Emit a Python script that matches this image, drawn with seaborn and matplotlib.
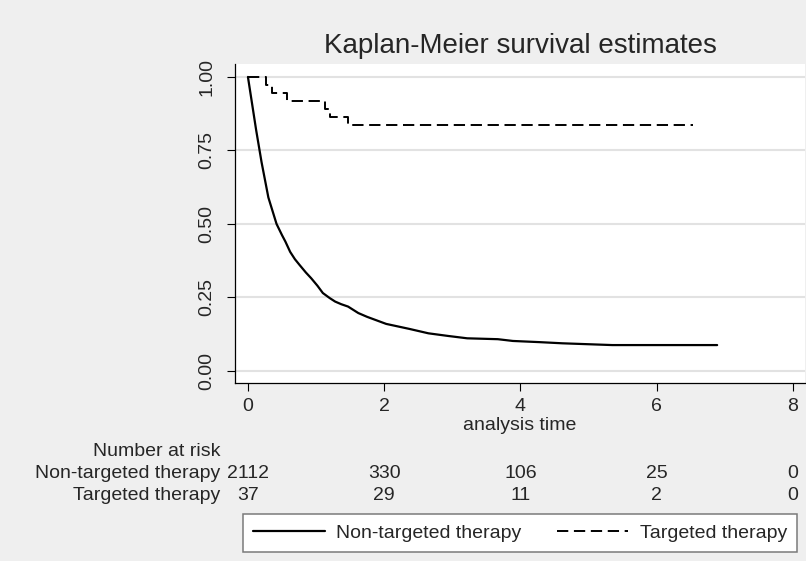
import numpy as np
import pandas as pd
import matplotlib
matplotlib.use("Agg")
import matplotlib.pyplot as plt
import matplotlib.transforms as mtransforms
import seaborn as sns

# ---------------- data ----------------
groups = ["Non-targeted therapy", "Targeted therapy"]

nt_time = [0, 0.06, 0.12, 0.2, 0.25, 0.3, 0.36, 0.42, 0.5, 0.55, 0.62, 0.69, 0.76, 0.85,
           0.93, 1.02, 1.1, 1.2, 1.28, 1.37, 1.47, 1.62, 1.75, 2.03, 2.37, 2.65, 2.94,
           3.22, 3.67, 3.89, 4.28, 4.62, 5.35, 6.89]
nt_surv = [1.0, 0.91, 0.82, 0.71, 0.65, 0.59, 0.545, 0.50, 0.462, 0.44, 0.405, 0.38, 0.36,
           0.335, 0.315, 0.29, 0.265, 0.248, 0.236, 0.227, 0.219, 0.197, 0.184, 0.16, 0.143,
           0.128, 0.119, 0.111, 0.108, 0.102, 0.098, 0.094, 0.088, 0.088]

tt_time = [0, 0.27, 0.35, 0.57, 1.13, 1.2, 1.47, 6.53]
tt_surv = [1.0, 0.973, 0.946, 0.919, 0.892, 0.865, 0.838, 0.838]

risk_times = [0, 2, 4, 6, 8]
risk_nt = [2112, 330, 106, 25, 0]
risk_tt = [37, 29, 11, 2, 0]

xticks = [0, 2, 4, 6, 8]
yticks = [0.0, 0.25, 0.5, 0.75, 1.0]
ytick_labels = ["0.00", "0.25", "0.50", "0.75", "1.00"]

title = "Kaplan-Meier survival estimates"
xlabel = "analysis time"
risk_header = "Number at risk"

# ---------------- style ----------------
sns.set_style("white")
plt.rcParams["font.family"] = ["Liberation Sans", "DejaVu Sans"]

FS = 14
W, H = 806, 561
fig = plt.figure(figsize=(W / 100, H / 100), dpi=100, facecolor="#efefef")
ax = fig.add_axes([235 / W, 1 - 383 / H, 570 / W, (383 - 64) / H])
ax.set_facecolor("white")

df_nt = pd.DataFrame({"time": nt_time, "survival": nt_surv})
df_tt = pd.DataFrame({"time": tt_time, "survival": tt_surv})

sns.lineplot(data=df_nt, x="time", y="survival", ax=ax, color="black", lw=1.6,
             estimator=None, sort=False, label=groups[0])
sns.lineplot(data=df_tt, x="time", y="survival", ax=ax, color="black", lw=1.4,
             estimator=None, sort=False, drawstyle="steps-post",
             linestyle=(0, (5.8, 2.9)), label=groups[1])

handles, labels = ax.get_legend_handles_labels()
if ax.get_legend() is not None:
    ax.get_legend().remove()

ax.set_xlim(-0.19, 8.18)
ax.set_ylim(-0.041, 1.044)
ax.set_xticks(xticks)
ax.set_xticklabels([str(t) for t in xticks])
ax.set_yticks(yticks)
ax.set_yticklabels(ytick_labels, rotation=90, va="center")
ax.set_xlabel("")
ax.set_ylabel("")

for s in ["top", "right"]:
    ax.spines[s].set_visible(False)
for s in ["left", "bottom"]:
    ax.spines[s].set_color("black")
    ax.spines[s].set_linewidth(0.9)

ax.yaxis.grid(True, color="#e2e2e2", lw=1.5)
ax.xaxis.grid(False)
ax.set_axisbelow(True)
ax.tick_params(axis="both", direction="out", length=6, width=0.8, color="black",
               labelsize=FS, left=True, bottom=True)
ax.tick_params(axis="y", pad=8)
ax.tick_params(axis="x", pad=5)

fig.text(520 / W, 1 - 46 / H, title, ha="center", va="center", fontsize=20)
fig.text(520 / W, 1 - 425 / H, xlabel, ha="center", va="center", fontsize=FS)

# number at risk table
trans = mtransforms.blended_transform_factory(ax.transData, fig.transFigure)
lab_x = 220 / W
fig.text(lab_x, 1 - 452 / H, risk_header, ha="right", va="center", fontsize=FS)
rows = [(groups[0], risk_nt, 474), (groups[1], risk_tt, 495)]
for name, vals, ypix in rows:
    fig.text(lab_x, 1 - ypix / H, name, ha="right", va="center", fontsize=FS)
    for t, v in zip(risk_times, vals):
        fig.text(t, 1 - ypix / H, str(v), transform=trans, ha="center", va="center",
                 fontsize=FS)

leg = fig.legend(handles, labels, ncol=2, loc="center",
                 bbox_to_anchor=(520 / W, 1 - 533 / H), frameon=True, fancybox=False,
                 edgecolor="#7a7a7a", facecolor="white", framealpha=1, fontsize=FS,
                 handlelength=3.7, handletextpad=0.6, columnspacing=1.8, borderpad=0.5)
leg.get_frame().set_linewidth(1.1)

fig.savefig("out.png", dpi=100, facecolor=fig.get_facecolor())
